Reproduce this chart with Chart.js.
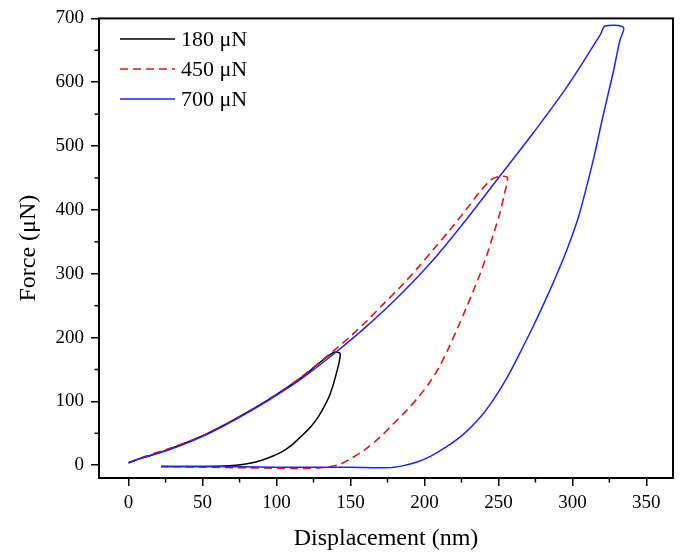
<!DOCTYPE html>
<html lang="en">
<head>
    <meta charset="UTF-8">
    <title>Force vs Displacement</title>
    <script src="https://cdn.jsdelivr.net/npm/chart.js"></script>
    <style>
        body {
            margin: 0;
            padding: 0;
            background: #ffffff;
        }
        #wrap {
            width: 681px;
            height: 553px;
        }
    </style>
</head>
<body>
    <div id="wrap">
        <canvas id="chart" width="681" height="553"></canvas>
    </div>
    <script>
        // series data (displacement in nm, force in uN)
        var seriesLabels = ['180 \u03bcN', '450 \u03bcN', '700 \u03bcN'];

        var disp180 = [0, 10, 26, 49, 71, 94, 116, 138, 143, 140, 136, 132, 128, 123, 117, 110, 103, 95, 86, 77, 68, 50, 22];
        var force180 = [4, 12, 24, 45, 71, 102, 136, 176, 175, 140, 110, 91, 75, 60, 46, 31, 20, 12, 5, 1, -1, -2, -2];

        var disp450 = [0, 10, 26, 49, 71, 94, 116, 141, 150, 161, 172, 184, 195, 206, 218, 229, 238, 245, 250, 256,
                       254, 251, 247, 243, 238, 233, 228, 222, 216, 210, 203, 196, 188, 179, 170, 160, 150, 141, 130, 116, 80, 50, 22];
        var force450 = [4, 13, 25, 45, 71, 102, 137, 184, 202, 226, 252, 280, 308, 338, 371, 403, 430, 447, 452, 451,
                        425, 395, 365, 335, 302, 273, 245, 213, 182, 154, 128, 107, 86, 65, 44, 25, 10, 0, -4, -5, -4, -3, -2];

        var disp700 = [0, 10, 26, 49, 71, 94, 116, 139, 161, 184, 206, 229, 251, 274, 297, 319, 322, 334.5,
                       332, 328, 324, 320, 315, 310, 304, 297, 290, 283, 274, 265, 256, 247, 238, 227, 215, 204, 195, 185, 175,
                       150, 100, 50, 22];
        var force700 = [4, 12, 23, 44, 70, 101, 134, 175, 218, 268, 322, 387, 453, 522, 595, 675, 688, 686,
                        665, 620, 580, 540, 487, 440, 388, 342, 302, 265, 220, 178, 138, 104, 76, 50, 29, 14, 5, -1, -4,
                        -3, -3, -2, -2];

        var xMajor = 50, yMajor = 100;

        function toPoints(xs, ys) {
            var pts = [];
            for (var i = 0; i < xs.length; i++) {
                pts.push({ x: xs[i], y: ys[i] });
            }
            return pts;
        }

        var serif = "'Liberation Serif', 'DejaVu Serif', serif";

        // box frame, minor ticks and the in-plot legend
        var framePlugin = {
            id: 'frame',
            afterDraw: function(chart) {
                var ctx = chart.ctx;
                var a = chart.chartArea;
                ctx.save();
                ctx.strokeStyle = '#000';

                // minor ticks
                ctx.lineWidth = 1.5;
                var sx = chart.scales.x, sy = chart.scales.y;
                sx.ticks.forEach(function(t) {
                    if (t.value >= 0 && t.value % xMajor !== 0 && t.value % 25 === 0) {
                        var px = sx.getPixelForValue(t.value);
                        ctx.beginPath();
                        ctx.moveTo(px, a.bottom);
                        ctx.lineTo(px, a.bottom + 4.5);
                        ctx.stroke();
                    }
                });
                sy.ticks.forEach(function(t) {
                    if (t.value >= 0 && t.value % yMajor !== 0 && t.value % 50 === 0) {
                        var py = sy.getPixelForValue(t.value);
                        ctx.beginPath();
                        ctx.moveTo(a.left, py);
                        ctx.lineTo(a.left - 4.5, py);
                        ctx.stroke();
                    }
                });

                ctx.lineWidth = 2;
                ctx.strokeRect(a.left, a.top, a.right - a.left, a.bottom - a.top);

                // legend
                ctx.font = '22px ' + serif;
                ctx.textBaseline = 'middle';
                ctx.textAlign = 'left';
                chart.data.datasets.forEach(function(ds, i) {
                    var y = 39 + i * 30;
                    ctx.beginPath();
                    ctx.lineWidth = 1.5;
                    ctx.strokeStyle = ds.borderColor;
                    ctx.setLineDash(ds.borderDash || []);
                    ctx.moveTo(120, y);
                    ctx.lineTo(175, y);
                    ctx.stroke();
                    ctx.setLineDash([]);
                    ctx.fillStyle = '#000';
                    ctx.fillText(ds.label, 181, y + 1);
                });
                ctx.restore();
            }
        };

        var ctx = document.getElementById('chart').getContext('2d');
        var myChart = new Chart(ctx, {
            type: 'line',
            data: {
                datasets: [{
                    label: seriesLabels[0],
                    data: toPoints(disp180, force180),
                    borderColor: '#000000',
                    borderWidth: 1.5,
                    order: 2
                }, {
                    label: seriesLabels[1],
                    data: toPoints(disp450, force450),
                    borderColor: '#e0161a',
                    borderDash: [8, 5],
                    borderWidth: 1.6,
                    order: 1
                }, {
                    label: seriesLabels[2],
                    data: toPoints(disp700, force700),
                    borderColor: '#2222ff',
                    borderWidth: 1.5,
                    order: 0
                }]
            },
            options: {
                responsive: false,
                animation: false,
                devicePixelRatio: 1,
                elements: {
                    point: { radius: 0 },
                    line: { tension: 0.3, fill: false }
                },
                layout: {
                    padding: { top: 17, right: 8, left: 0, bottom: 0 }
                },
                plugins: {
                    legend: { display: false },
                    tooltip: { enabled: false }
                },
                scales: {
                    x: {
                        type: 'linear',
                        min: -20,
                        max: 368,
                        afterFit: function(scale) { scale.height = 75; },
                        border: { display: false },
                        grid: {
                            drawOnChartArea: false,
                            drawTicks: true,
                            tickLength: 8,
                            lineWidth: 1.5,
                            color: function(c) {
                                return (c.tick && c.tick.value >= 0 && c.tick.value % xMajor === 0) ? '#000' : 'rgba(0,0,0,0)';
                            }
                        },
                        ticks: {
                            stepSize: 25,
                            includeBounds: false,
                            autoSkip: false,
                            maxRotation: 0,
                            padding: 6,
                            color: '#000',
                            font: { family: serif, size: 19 },
                            callback: function(v) {
                                return (v >= 0 && v % xMajor === 0) ? String(v) : '';
                            }
                        },
                        title: {
                            display: true,
                            text: 'Displacement (nm)',
                            color: '#000',
                            font: { family: serif, size: 24 },
                            padding: { top: 0, bottom: 0 }
                        }
                    },
                    y: {
                        min: -20,
                        max: 700,
                        afterFit: function(scale) { scale.width = 99; },
                        border: { display: false },
                        grid: {
                            drawOnChartArea: false,
                            drawTicks: true,
                            tickLength: 8,
                            lineWidth: 1.5,
                            color: function(c) {
                                return (c.tick && c.tick.value >= 0 && c.tick.value % yMajor === 0) ? '#000' : 'rgba(0,0,0,0)';
                            }
                        },
                        ticks: {
                            stepSize: 50,
                            includeBounds: false,
                            autoSkip: false,
                            padding: 7,
                            color: '#000',
                            font: { family: serif, size: 19 },
                            callback: function(v) {
                                return (v >= 0 && v % yMajor === 0) ? String(v) : '';
                            }
                        },
                        title: {
                            display: true,
                            text: 'Force (\u03bcN)',
                            color: '#000',
                            font: { family: serif, size: 24 },
                            padding: { top: 14, bottom: 0 }
                        }
                    }
                }
            },
            plugins: [framePlugin]
        });
    </script>
</body>
</html>
